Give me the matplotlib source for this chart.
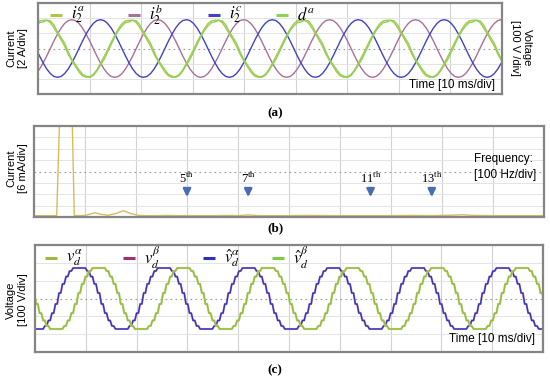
import numpy as np
import matplotlib
matplotlib.use('Agg')
import matplotlib.pyplot as plt

plt.rcParams['font.family'] = ['Liberation Sans', 'DejaVu Sans']
plt.rcParams['mathtext.fontset'] = 'stix'

# ---- data ----
PERIOD_MS = 1000.0 / 60.0   # 60 Hz grid

# (a) one period of each trace, normalised, 24 samples starting at the peak
i2a_cycle = [0.98, 0.98, 0.90, 0.72, 0.52, 0.30, 0.08, -0.20, -0.42, -0.62, -0.82, -0.95,
             -1.00, -0.98, -0.90, -0.74, -0.52, -0.28, -0.04, 0.22, 0.46, 0.68, 0.86, 0.96]
da_cycle = [0.92, 0.98, 0.96, 0.82, 0.58, 0.38, 0.18, -0.12, -0.38, -0.56, -0.74, -0.90,
            -0.96, -1.00, -0.94, -0.78, -0.58, -0.38, -0.12, 0.14, 0.40, 0.62, 0.78, 0.90]
sine_cycle = [1.00, 0.97, 0.87, 0.71, 0.50, 0.26, 0.00, -0.26, -0.50, -0.71, -0.87, -0.97,
              -1.00, -0.97, -0.87, -0.71, -0.50, -0.26, 0.00, 0.26, 0.50, 0.71, 0.87, 0.97]
amp_a = 1.9          # divisions
peak_a_ms = 1.0      # first i2a peak
lag_b = 8            # samples (120 deg)
lag_c = 16           # samples (240 deg)

# (b) current spectrum, Hz vs divisions
spec_freq = [0, 20, 40, 44.5, 50, 75, 79, 90, 100, 110, 120, 130, 145, 160, 175, 190, 205,
             220, 240, 260, 280, 300, 320, 340, 360, 380, 400, 420, 440, 460, 480, 500, 540,
             580, 620, 660, 700, 740, 780, 820, 840, 860, 900, 940, 980, 1000]
spec_amp = [0.12, 0.12, 0.12, 0.12, 8.3, 8.3, 0.12, 0.12, 0.14, 0.25, 0.38, 0.25, 0.15, 0.3,
            0.55, 0.3, 0.14, 0.12, 0.12, 0.14, 0.12, 0.12, 0.12, 0.12, 0.12, 0.14, 0.12, 0.18,
            0.12, 0.12, 0.12, 0.12, 0.14, 0.12, 0.12, 0.12, 0.12, 0.14, 0.12, 0.16, 0.2, 0.14,
            0.12, 0.12, 0.12, 0.12]
harm_order = [5, 7, 11, 13]
harm_freq = [300, 420, 660, 780]

# (c) one period of the multilevel voltage, 24 levels starting at flat top
step_cycle = [1, 1, 1, 1, 0.9, 0.72, 0.48, 0.18, -0.18, -0.48, -0.72, -0.9,
              -1, -1, -1, -1, -0.9, -0.72, -0.48, -0.18, 0.18, 0.48, 0.72, 0.9]
amp_c = 1.71
top_c_ms = 7.5       # start of first flat top of v_hat_alpha
lag_beta = 11        # of 48 half-steps

W, H = 550, 380
fig = plt.figure(figsize=(W / 100, H / 100), dpi=100)


def box(l, t, r, b):
    return fig.add_axes([l / W, 1 - b / H, (r - l) / W, (b - t) / H])


def scope(ax, xmax, ymin, ymax, xdiv, ydivs, center):
    ax.set_xlim(0, xmax)
    ax.set_ylim(ymin, ymax)
    ax.set_xticks([])
    ax.set_yticks([])
    for s in ax.spines.values():
        s.set_color('#858585')
        s.set_linewidth(1.6)
    for x in np.arange(xdiv, xmax, xdiv):
        ax.axvline(x, color='#d2d2d2', lw=0.8, zorder=0)
    for y in ydivs:
        ax.axhline(y, color='#e4e4e4', lw=0.7, zorder=0)
    ax.axhline(center, color='#9a9a9a', lw=0.8, ls=(0, (1.5, 3)), zorder=0)


def legend_row(ax, items, xs_px, y, size):
    # xs_px: left edge of each swatch, in pixels from the axes' left edge
    wpx = ax.get_position().width * W
    for x, (lab, col) in zip(xs_px, items):
        x0 = x / wpx
        ax.plot([x0, x0 + 12 / wpx], [y, y], color=col, lw=2.2, transform=ax.transAxes,
                solid_capstyle='butt', clip_on=False)
        ax.text(x0 + 21 / wpx, y, lab, transform=ax.transAxes, fontsize=size,
                va='center', ha='left')


def tag(y_px, s):
    fig.text(0.5, 1 - y_px / H, s, fontsize=9.5, fontweight='bold',
             family='Liberation Serif', ha='center', va='center')


# ---------- (a) ----------
ax_a = box(38, 3, 502, 94)
scope(ax_a, 90, -3, 3, 10, [-2, -1, 1, 2], 0)
n_cyc = 8
dt_a = PERIOD_MS / 24
t_a = peak_a_ms - PERIOD_MS + np.arange(24 * n_cyc) * dt_a
i2a = amp_a * np.tile(i2a_cycle, n_cyc)
da = amp_a * np.tile(da_cycle, n_cyc)
i2b = amp_a * np.roll(np.tile(sine_cycle, n_cyc), lag_b)
i2c = amp_a * np.roll(np.tile(sine_cycle, n_cyc), lag_c)
ax_a.plot(t_a, i2b, color='#a8709a', lw=1.0)
ax_a.plot(t_a, i2c, color='#4242c8', lw=1.0)
ax_a.plot(t_a, i2a, color='#b4c448', lw=1.0)
ax_a.plot(t_a, da, color='#86d458', lw=1.0)
legend_row(ax_a, [(r'$i_2^a$', '#b4c448'), (r'$i_2^b$', '#a8709a'),
                  (r'$i_2^c$', '#4242c8'), (r'$d^a$', '#86d458')],
           [12, 90, 170, 238], 0.87, 12)
ax_a.text(0.985, 0.1, 'Time [10 ms/div]', transform=ax_a.transAxes, fontsize=8.5,
          ha='right', va='center')
fig.text(17 / W, 1 - 48 / H, 'Current\n[2 A/div]', rotation=90, fontsize=8,
         ha='center', va='center', multialignment='center')
fig.text(521 / W, 1 - 48 / H, 'Voltage\n[100 V /div]', rotation=270, fontsize=8,
         ha='center', va='center', multialignment='center')
tag(113, '(a)')

# ---------- (b) ----------
ax_b = box(34, 126, 544, 217)
scope(ax_b, 1000, 0, 8, 100, [1, 2, 3, 5, 6, 7], 4)
ax_b.plot(spec_freq, spec_amp, color='#d8bc5c', lw=1.0)
for n, f in zip(harm_order, harm_freq):
    ax_b.annotate('', xy=(f, 1.5), xytext=(f, 2.7),
                  arrowprops=dict(arrowstyle='-|>,head_width=0.22,head_length=0.45',
                                  color='#4a6cb4', lw=1.8))
    ax_b.text(f, 3.4, '%d$^{\\mathrm{th}}$' % n, ha='center', va='center',
              fontsize=9, family='Liberation Serif')
ax_b.text(0.862, 0.55, 'Frequency:\n[100 Hz/div]', transform=ax_b.transAxes,
          fontsize=8.5, ha='left', va='center', linespacing=1.5)
fig.text(17 / W, 1 - 168 / H, 'Current\n[6 mA/div]', rotation=90, fontsize=8,
         ha='center', va='center', multialignment='center')
tag(228, '(b)')

# ---------- (c) ----------
ax_c = box(35, 245, 543, 352)
scope(ax_c, 100, -3, 3, 10, [-2, -1, 1, 2], 0)
n_cyc_c = 8
steps = np.repeat(np.tile(step_cycle, n_cyc_c), 2)
t_c = top_c_ms - PERIOD_MS + np.arange(len(steps)) * PERIOD_MS / 48
v_hat_a = amp_c * steps
v_hat_b = amp_c * np.roll(steps, lag_beta)
ax_c.plot(t_c, v_hat_a, color='#c890b8', lw=1.5)
ax_c.plot(t_c, v_hat_a, color='#3434c0', lw=1.0)
ax_c.plot(t_c, v_hat_b, color='#a8e080', lw=1.6)
ax_c.plot(t_c, v_hat_b, color='#a4b440', lw=1.0)
legend_row(ax_c, [(r'$v_d^\alpha$', '#a4b440'), (r'$v_d^\beta$', '#a0306e'),
                  (r'$\hat{v}_d^\alpha$', '#3030b8'), (r'$\hat{v}_d^\beta$', '#76d040')],
           [10, 88, 168, 237], 0.88, 12)
ax_c.text(0.985, 0.12, 'Time [10 ms/div]', transform=ax_c.transAxes, fontsize=8.5,
          ha='right', va='center')
fig.text(17 / W, 1 - 300 / H, 'Voltage\n[100 V/div]', rotation=90, fontsize=8,
         ha='center', va='center', multialignment='center')
tag(370, '(c)')

fig.savefig('out.png', dpi=100)
